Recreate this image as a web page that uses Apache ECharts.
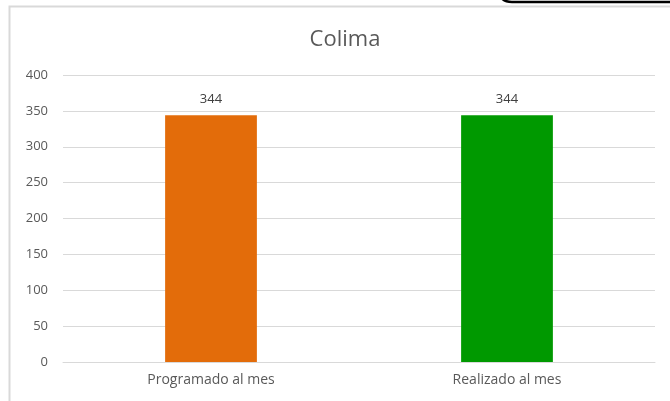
<!DOCTYPE html>
<html>
<head>
<meta charset="utf-8">
<script src="https://cdn.jsdelivr.net/npm/echarts@6/dist/echarts.min.js"></script>
<style>
  html, body { margin: 0; padding: 0; background: #ffffff; }
  #chart { width: 670px; height: 401px; }
</style>
</head>
<body>
<div id="chart"></div>
<script>
// Datos del gráfico
var chartTitle = 'Colima';
var categories = ['Programado al mes', 'Realizado al mes'];
var values = [344, 344];
var barColors = ['#E36C0A', '#009900'];

var chart = echarts.init(document.getElementById('chart'), null, { renderer: 'canvas' });

var option = {
    backgroundColor: '#ffffff',
    animation: false,
    title: {
        text: chartTitle,
        left: 340,
        top: 24,
        textAlign: 'center',
        textStyle: {
            color: '#595959',
            fontSize: 22,
            fontWeight: 'normal',
            fontFamily: 'Open Sans'
        }
    },
    grid: {
        left: 63,
        right: 15,
        top: 75,
        bottom: 39,
        containLabel: false
    },
    xAxis: {
        type: 'category',
        data: categories,
        axisLine: { show: true, lineStyle: { color: '#D9D9D9', width: 1 } },
        axisTick: { show: false },
        axisLabel: {
            color: '#595959',
            fontSize: 14,
            fontFamily: 'Open Sans',
            margin: 11
        }
    },
    yAxis: {
        type: 'value',
        min: 0,
        max: 400,
        interval: 50,
        axisLine: { show: false },
        axisTick: { show: false },
        axisLabel: {
            color: '#595959',
            fontSize: 13,
            fontFamily: 'Open Sans',
            margin: 15
        },
        splitLine: { lineStyle: { color: '#D9D9D9', width: 1 } }
    },
    series: [{
        type: 'bar',
        barWidth: '31%',
        data: values.map(function (v, i) {
            return { value: v, itemStyle: { color: barColors[i] } };
        }),
        label: {
            show: true,
            position: 'top',
            distance: 9,
            color: '#404040',
            fontSize: 13,
            fontFamily: 'Open Sans'
        }
    }],
    graphic: [
        // borde del área del gráfico
        {
            type: 'polyline',
            shape: { points: [[9.5, 401], [9.5, 6.5], [670, 6.5]] },
            style: { stroke: '#D9D9D9', lineWidth: 2, fill: null }
        },
        // fragmento del recuadro negro arriba a la derecha
        {
            type: 'bezierCurve',
            shape: { x1: 498, y1: -10, cpx1: 500, cpy1: 2, x2: 512, y2: 2 },
            style: { stroke: '#000000', lineWidth: 2.5, fill: null }
        },
        {
            type: 'line',
            shape: { x1: 512, y1: 2, x2: 672, y2: 2 },
            style: { stroke: '#000000', lineWidth: 2.5 }
        }
    ]
};

chart.setOption(option);
</script>
</body>
</html>
